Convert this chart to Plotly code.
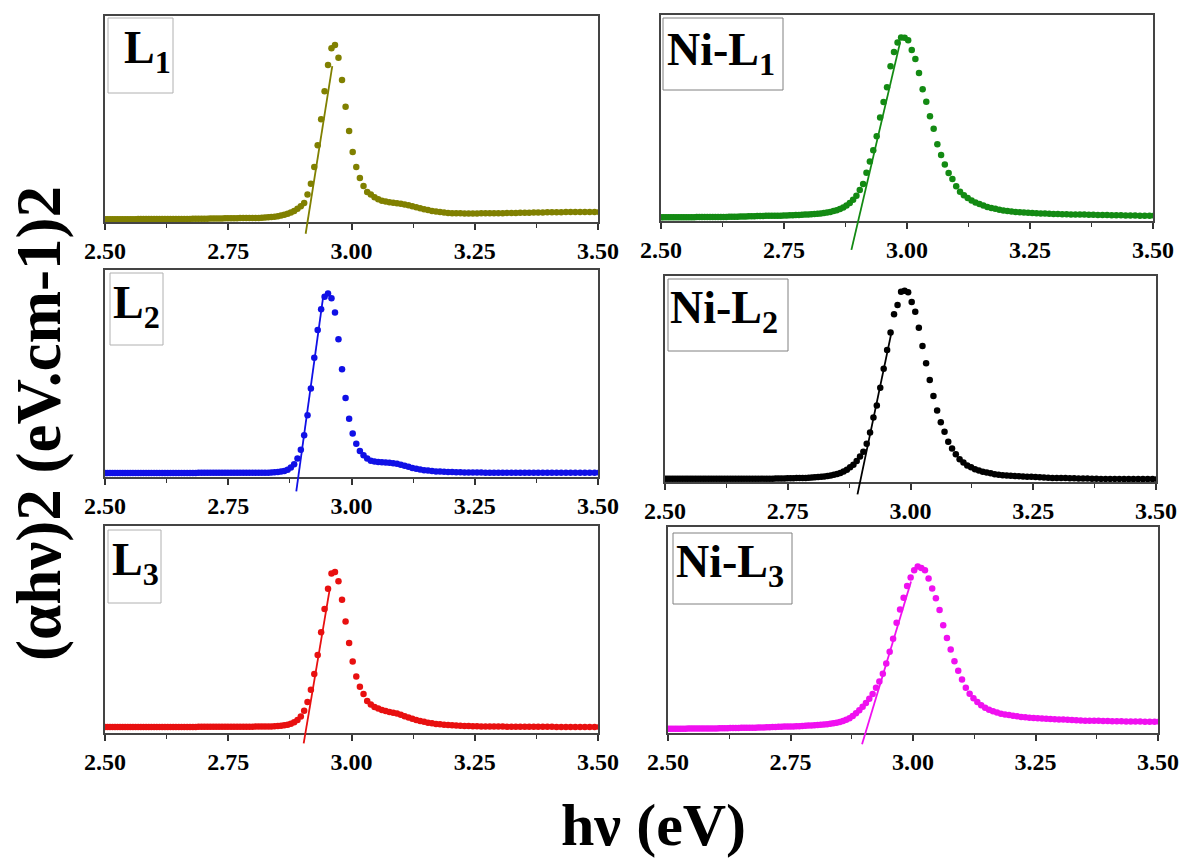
import plotly.graph_objects as go

W, H = 1184, 860

# ---------------- data ----------------
# measurement grid (1 nm steps, 496 nm -> 354 nm), converted to photon energy
wavelength_nm = list(range(496, 353, -1))
photon_energy_eV = [round(1240.0 / w, 4) for w in wavelength_nm]

tick_values = [2.50, 2.75, 3.00, 3.25, 3.50]
tick_labels = ["2.50", "2.75", "3.00", "3.25", "3.50"]

panel_names = ["L<sub>1</sub>", "Ni-L<sub>1</sub>", "L<sub>2</sub>",
               "Ni-L<sub>2</sub>", "L<sub>3</sub>", "Ni-L<sub>3</sub>"]

# (alpha h nu)^2, arbitrary units (percent of panel full scale), ordered by wavelength 496 -> 354 nm
L1_y = [
    1.3, 1.3, 1.3, 1.3, 1.3, 1.3, 1.3, 1.3, 1.3, 1.3,
    1.3, 1.3, 1.3, 1.4, 1.4, 1.4, 1.4, 1.4, 1.4, 1.4,
    1.4, 1.4, 1.4, 1.4, 1.5, 1.5, 1.5, 1.5, 1.5, 1.5,
    1.5, 1.5, 1.5, 1.6, 1.6, 1.6, 1.6, 1.6, 1.6, 1.7,
    1.7, 1.7, 1.7, 1.7, 1.8, 1.8, 1.8, 1.8, 1.8, 1.9,
    1.9, 1.9, 1.9, 2.0, 2.0, 2.0, 2.1, 2.2, 2.3, 2.4,
    2.6, 2.8, 3.1, 3.5, 4.0, 4.6, 5.4, 6.4, 7.6, 9.2,
    13.3, 18.6, 26.7, 37.3, 49.9, 63.5, 76.2, 84.3, 85.9, 79.7,
    68.9, 55.9, 44.2, 34.0, 26.7, 21.4, 17.5, 14.6, 13.3, 12.0,
    11.0, 10.3, 9.9, 9.6, 9.3, 9.1, 8.8, 8.5, 8.1, 7.7,
    7.2, 6.7, 6.2, 5.8, 5.4, 5.1, 4.8, 4.6, 4.4, 4.3,
    4.2, 4.2, 4.1, 4.1, 4.1, 4.1, 4.2, 4.2, 4.2, 4.3,
    4.3, 4.3, 4.4, 4.4, 4.4, 4.5, 4.5, 4.5, 4.6, 4.6,
    4.6, 4.7, 4.7, 4.7, 4.7, 4.8, 4.8, 4.8, 4.8, 4.8,
    4.8, 4.8, 4.8,
]
NiL1_y = [
    1.8, 1.8, 1.8, 1.8, 1.8, 1.8, 1.8, 1.8, 1.8, 1.8,
    1.8, 1.8, 1.8, 1.8, 1.9, 1.9, 1.9, 1.9, 1.9, 1.9,
    1.9, 2.0, 2.0, 2.0, 2.0, 2.0, 2.1, 2.1, 2.1, 2.1,
    2.2, 2.2, 2.2, 2.3, 2.3, 2.3, 2.4, 2.4, 2.4, 2.5,
    2.5, 2.5, 2.6, 2.6, 2.6, 2.7, 2.7, 2.8, 2.8, 2.9,
    2.9, 3.0, 3.1, 3.2, 3.3, 3.4, 3.5, 3.7, 3.9, 4.1,
    4.4, 4.8, 5.2, 5.8, 6.5, 7.5, 8.7, 10.3, 12.3, 15.1,
    18.0, 23.4, 28.9, 34.4, 41.2, 50.3, 57.8, 64.9, 75.1, 82.0,
    86.6, 89.1, 89.0, 87.7, 83.0, 78.6, 71.8, 64.0, 57.9, 50.8,
    44.8, 37.2, 32.0, 27.4, 23.3, 20.4, 16.9, 14.2, 12.5, 11.2,
    9.9, 9.0, 8.2, 7.5, 6.8, 6.3, 5.9, 5.5, 5.1, 4.9,
    4.6, 4.4, 4.3, 4.1, 4.0, 3.9, 3.8, 3.7, 3.6, 3.5,
    3.4, 3.4, 3.3, 3.3, 3.2, 3.2, 3.1, 3.1, 3.0, 3.0,
    2.9, 2.9, 2.9, 2.8, 2.8, 2.8, 2.7, 2.7, 2.7, 2.6,
    2.6, 2.6, 2.6,
]
L2_y = [
    1.9, 1.9, 1.9, 1.9, 1.9, 1.9, 1.9, 1.9, 1.9, 1.9,
    1.9, 1.9, 1.9, 1.9, 1.9, 1.9, 1.9, 1.9, 1.9, 1.9,
    1.9, 1.9, 1.9, 1.9, 1.9, 1.9, 1.9, 1.9, 1.9, 1.9,
    1.9, 1.9, 1.9, 1.9, 1.9, 2.0, 2.0, 2.0, 2.0, 2.0,
    2.0, 2.0, 2.0, 2.0, 2.0, 2.0, 2.0, 2.0, 2.0, 2.0,
    2.0, 2.0, 2.0, 2.0, 2.0, 2.0, 2.0, 2.1, 2.1, 2.2,
    2.3, 2.4, 2.6, 2.9, 3.5, 4.6, 6.2, 8.9, 13.2, 20.2,
    29.8, 42.7, 57.6, 71.0, 81.0, 87.1, 88.7, 86.3, 79.5, 66.5,
    52.0, 38.2, 28.2, 21.0, 16.1, 12.6, 10.5, 8.9, 7.9, 7.5,
    7.3, 7.1, 7.0, 6.9, 6.7, 6.4, 5.9, 5.4, 4.9, 4.4,
    4.0, 3.6, 3.3, 3.1, 2.9, 2.7, 2.6, 2.5, 2.4, 2.4,
    2.3, 2.3, 2.2, 2.2, 2.2, 2.2, 2.2, 2.1, 2.1, 2.1,
    2.1, 2.1, 2.1, 2.1, 2.1, 2.1, 2.1, 2.1, 2.1, 2.1,
    2.1, 2.1, 2.1, 2.1, 2.1, 2.1, 2.1, 2.1, 2.1, 2.1,
    2.1, 2.1, 2.1,
]
NiL2_y = [
    1.6, 1.6, 1.6, 1.6, 1.6, 1.6, 1.6, 1.6, 1.6, 1.6,
    1.6, 1.6, 1.6, 1.6, 1.6, 1.6, 1.6, 1.6, 1.6, 1.6,
    1.6, 1.6, 1.6, 1.6, 1.6, 1.6, 1.6, 1.6, 1.6, 1.6,
    1.6, 1.6, 1.6, 1.6, 1.6, 1.6, 1.6, 1.6, 1.6, 1.6,
    1.6, 1.7, 1.7, 1.7, 1.7, 1.8, 1.8, 1.8, 1.9, 1.9,
    2.0, 2.0, 2.1, 2.2, 2.3, 2.4, 2.5, 2.7, 2.9, 3.1,
    3.5, 3.9, 4.4, 5.1, 6.0, 7.2, 8.4, 10.2, 12.4, 14.7,
    18.6, 24.0, 31.3, 37.1, 45.8, 55.0, 64.1, 72.6, 81.4, 85.9,
    92.4, 92.9, 92.1, 87.4, 82.6, 74.9, 66.0, 57.7, 49.5, 41.7,
    34.7, 29.0, 24.4, 19.5, 16.3, 13.5, 11.1, 9.5, 8.0, 7.2,
    6.2, 5.6, 5.0, 4.6, 4.2, 3.8, 3.5, 3.3, 3.1, 3.0,
    2.9, 2.8, 2.7, 2.6, 2.5, 2.4, 2.3, 2.2, 2.1, 2.0,
    2.0, 1.9, 1.9, 1.8, 1.8, 1.7, 1.7, 1.7, 1.6, 1.6,
    1.5, 1.5, 1.5, 1.5, 1.5, 1.4, 1.4, 1.4, 1.4, 1.4,
    1.4, 1.4, 1.4,
]
L3_y = [
    2.9, 2.9, 2.9, 2.9, 2.9, 2.9, 2.9, 2.9, 2.9, 2.9,
    2.9, 2.9, 2.9, 2.9, 2.9, 2.9, 2.9, 2.9, 2.9, 2.9,
    2.9, 2.9, 2.9, 2.9, 2.9, 2.9, 2.9, 2.9, 2.9, 2.9,
    2.9, 2.9, 2.9, 2.9, 2.9, 3.0, 3.0, 3.0, 3.0, 3.0,
    3.0, 3.0, 3.0, 3.0, 3.0, 3.0, 3.0, 3.0, 3.0, 3.0,
    3.0, 3.0, 3.0, 3.0, 3.1, 3.1, 3.1, 3.2, 3.2, 3.2,
    3.3, 3.4, 3.5, 3.7, 4.0, 4.5, 5.2, 6.3, 8.0, 10.7,
    15.0, 20.9, 28.5, 37.7, 48.7, 59.9, 69.7, 77.0, 77.8, 73.3,
    64.4, 53.9, 43.5, 34.6, 27.3, 22.3, 18.8, 15.5, 13.8, 12.6,
    11.8, 11.1, 10.6, 10.2, 9.8, 9.4, 8.8, 8.1, 7.5, 6.9,
    6.3, 5.8, 5.4, 5.0, 4.7, 4.4, 4.2, 4.0, 3.9, 3.7,
    3.6, 3.5, 3.4, 3.4, 3.3, 3.3, 3.2, 3.2, 3.2, 3.1,
    3.1, 3.1, 3.0, 3.0, 3.0, 3.0, 3.0, 3.0, 3.0, 3.0,
    3.0, 3.0, 3.0, 2.9, 2.9, 2.9, 2.9, 2.9, 2.9, 2.9,
    2.9, 2.9, 2.9,
]
NiL3_y = [
    2.1, 2.1, 2.1, 2.1, 2.1, 2.1, 2.1, 2.1, 2.2, 2.2,
    2.2, 2.2, 2.2, 2.2, 2.2, 2.2, 2.2, 2.2, 2.2, 2.2,
    2.3, 2.3, 2.3, 2.3, 2.4, 2.4, 2.4, 2.4, 2.5, 2.5,
    2.5, 2.6, 2.6, 2.6, 2.7, 2.7, 2.7, 2.8, 2.8, 2.9,
    2.9, 3.0, 3.0, 3.1, 3.1, 3.2, 3.2, 3.3, 3.3, 3.4,
    3.5, 3.6, 3.7, 3.8, 3.9, 4.0, 4.1, 4.3, 4.5, 4.7,
    5.0, 5.4, 5.8, 6.4, 7.1, 8.2, 9.6, 11.0, 12.8, 14.6,
    16.6, 18.9, 22.0, 25.0, 28.8, 33.7, 39.5, 45.7, 53.5, 59.9,
    65.6, 71.3, 75.5, 79.0, 80.8, 80.1, 79.0, 75.0, 70.2, 65.4,
    59.7, 52.3, 46.1, 40.5, 34.8, 30.2, 26.0, 22.0, 19.0, 16.9,
    15.0, 13.5, 12.2, 11.3, 10.5, 9.9, 9.4, 9.0, 8.7, 8.4,
    8.1, 7.8, 7.6, 7.4, 7.3, 7.1, 7.0, 6.9, 6.8, 6.7,
    6.6, 6.5, 6.4, 6.3, 6.2, 6.1, 6.0, 6.0, 5.9, 5.9,
    5.8, 5.8, 5.7, 5.7, 5.7, 5.6, 5.6, 5.6, 5.6, 5.5,
    5.5, 5.5, 5.5,
]

# linear (Tauc) extrapolation lines: [E_start, E_end], [y_start, y_end]
fit_L1_x, fit_L1_y = [2.907, 2.961], [-5.7, 75.7]
fit_NiL1_x, fit_NiL1_y = [2.887, 2.986], [-14.0, 86.7]
fit_L2_x, fit_L2_y = [2.888, 2.943], [-7.0, 87.9]
fit_NiL2_x, fit_NiL2_y = [2.892, 2.962], [-6.0, 73.5]
fit_L3_x, fit_L3_y = [2.903, 2.956], [-5.0, 69.7]
fit_NiL3_x, fit_NiL3_y = [2.896, 2.996], [-5.5, 73.5]

series_y = [L1_y, NiL1_y, L2_y, NiL2_y, L3_y, NiL3_y]
fits = [(fit_L1_x, fit_L1_y), (fit_NiL1_x, fit_NiL1_y), (fit_L2_x, fit_L2_y),
        (fit_NiL2_x, fit_NiL2_y), (fit_L3_x, fit_L3_y), (fit_NiL3_x, fit_NiL3_y)]

# ---------------- styling / layout ----------------
colors = ["#808000", "#138a13", "#1010e6", "#000000", "#e81010", "#f010f0"]

X_RANGE = [2.5, 3.5]
Y_RANGE = [0, 100]

# plot areas in pixels: (left, top, right, bottom)
panel_px = [
    (105, 16, 598, 222),
    (661, 15, 1153, 221),
    (105, 270, 598, 477),
    (665, 276, 1156, 482),
    (105, 526, 598, 733),
    (668, 527, 1158, 733),
]
# label boxes (left, top, right, bottom) and text anchor (left x, cap-top y)
label_box_px = [
    (108, 18, 173, 93),
    (663, 18, 783, 90),
    (110, 273, 163, 345),
    (668, 279, 788, 351),
    (108, 530, 161, 603),
    (673, 533, 792, 604),
]
label_text_px = [
    (123, 33), (666, 35), (112, 288), (669, 293), (111, 545), (675, 547),
]
box_colors = ["#b0b0b0", "#808080", "#b0b0b0", "#808080", "#b0b0b0", "#808080"]

FONT = "Liberation Serif, Times New Roman, serif"


def px_x(p):
    return p / W


def px_y(p):
    return 1 - p / H


fig = go.Figure()
layout = dict(
    template="none",
    width=W, height=H,
    margin=dict(l=0, r=0, t=0, b=0, pad=0, autoexpand=False),
    paper_bgcolor="white", plot_bgcolor="white",
    showlegend=False,
    shapes=[], annotations=[],
)

for i in range(6):
    n = "" if i == 0 else str(i + 1)
    xa, ya = "x" + n, "y" + n
    fig.add_trace(go.Scatter(
        x=photon_energy_eV, y=series_y[i], mode="markers",
        marker=dict(size=6.5, color=colors[i], line=dict(width=0)),
        xaxis=xa, yaxis=ya, hoverinfo="skip",
    ))
    l, t, r, b = panel_px[i]
    layout["xaxis" + n] = dict(
        domain=[px_x(l), px_x(r)], anchor=ya, range=X_RANGE, automargin=False,
        tickmode="array", tickvals=tick_values, ticktext=tick_labels,
        ticks="outside", ticklen=6, tickwidth=1.5, tickcolor="#333",
        minor=dict(tickmode="linear", tick0=2.5, dtick=0.125, ticks="outside",
                   ticklen=4, tickwidth=1, tickcolor="#333", showgrid=False),
        showline=True, linecolor="#444", linewidth=1.5, mirror=True,
        showgrid=False, zeroline=False,
        tickfont=dict(family=FONT, size=24, color="black", weight="bold"),
    )
    layout["yaxis" + n] = dict(
        domain=[px_y(b), px_y(t)], anchor=xa, range=Y_RANGE, automargin=False,
        showline=True, linecolor="#444", linewidth=1.5, mirror=True,
        showgrid=False, zeroline=False, showticklabels=False, ticks="",
    )
    fx, fy = fits[i]
    span = Y_RANGE[1] - Y_RANGE[0]
    layout["shapes"].append(dict(
        type="line", xref=xa, yref=ya + " domain",
        x0=fx[0], x1=fx[1],
        y0=(fy[0] - Y_RANGE[0]) / span, y1=(fy[1] - Y_RANGE[0]) / span,
        line=dict(color=colors[i], width=1.8),
    ))
    bl, bt, br, bb = label_box_px[i]
    layout["shapes"].append(dict(
        type="rect", xref="paper", yref="paper",
        x0=px_x(bl), x1=px_x(br), y0=px_y(bb), y1=px_y(bt),
        line=dict(color=box_colors[i], width=1), fillcolor="rgba(0,0,0,0)",
    ))
    tx, ty = label_text_px[i]
    layout["annotations"].append(dict(
        text="<b>" + panel_names[i] + "</b>", showarrow=False,
        xref="paper", yref="paper", x=px_x(tx), y=px_y(ty - 12),
        xanchor="left", yanchor="top", borderpad=0,
        font=dict(family=FONT, size=46, color="black"),
    ))

layout["annotations"].append(dict(
    text="<b>hν (eV)</b>", showarrow=False, xref="paper", yref="paper",
    x=px_x(653), y=px_y(790), xanchor="center", yanchor="top",
    font=dict(family=FONT, size=60, color="black"),
))
layout["annotations"].append(dict(
    text="<b>(αhν)2 (eV.cm-1)2</b>", showarrow=False, xref="paper", yref="paper",
    x=px_x(39), y=px_y(424), xanchor="center", yanchor="middle", textangle=-90,
    font=dict(family=FONT, size=63, color="black"),
))

fig.update_layout(**layout)
fig.write_html("out.html")
